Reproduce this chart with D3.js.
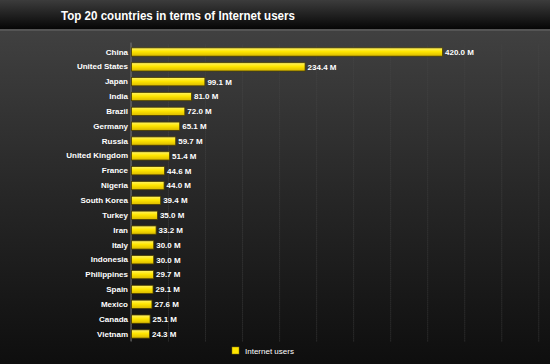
<!DOCTYPE html>
<html>
<head>
<meta charset="utf-8">
<script src="https://cdn.jsdelivr.net/npm/d3@7"></script>
<style>
  body { margin: 0; background: #111; }
  svg { display: block; font-family: "Liberation Sans", Arial, sans-serif; }
</style>
</head>
<body>
<div id="vis"></div>
<script>
// frame
const FRAME_WIDTH = 550;
const FRAME_HEIGHT = 364;
const MARGINS = {left: 131, top: 44.6, bottom: 22.6};

// data
const countries = ["China", "United States", "Japan", "India", "Brazil", "Germany",
  "Russia", "United Kingdom", "France", "Nigeria", "South Korea", "Turkey", "Iran",
  "Italy", "Indonesia", "Philippines", "Spain", "Mexico", "Canada", "Vietnam"];
const users = [420.0, 234.4, 99.1, 81.0, 72.0, 65.1, 59.7, 51.4, 44.6, 44.0,
  39.4, 35.0, 33.2, 30.0, 30.0, 29.7, 29.1, 27.6, 25.1, 24.3];
const gridTicks = [0, 50, 100, 150, 200, 250, 300, 350, 400, 450, 500, 550];
const seriesName = "Internet users";
const title = "Top 20 countries in terms of Internet users";

const svg = d3.select("#vis").append("svg")
    .attr("width", FRAME_WIDTH)
    .attr("height", FRAME_HEIGHT);

const defs = svg.append("defs");

// background gradients
const bg = defs.append("linearGradient").attr("id", "bg")
    .attr("x1", 0).attr("y1", 0).attr("x2", 0).attr("y2", 1);
bg.append("stop").attr("offset", "0%").attr("stop-color", "#454545");
bg.append("stop").attr("offset", "55%").attr("stop-color", "#262626");
bg.append("stop").attr("offset", "100%").attr("stop-color", "#0e0e0e");

const head = defs.append("linearGradient").attr("id", "head")
    .attr("x1", 0).attr("y1", 0).attr("x2", 0).attr("y2", 1);
head.append("stop").attr("offset", "0%").attr("stop-color", "#3c3c3c");
head.append("stop").attr("offset", "100%").attr("stop-color", "#060606");

const barGrad = defs.append("linearGradient").attr("id", "bar")
    .attr("x1", 0).attr("y1", 0).attr("x2", 0).attr("y2", 1);
barGrad.append("stop").attr("offset", "0%").attr("stop-color", "#fff36a");
barGrad.append("stop").attr("offset", "45%").attr("stop-color", "#ffe600");
barGrad.append("stop").attr("offset", "100%").attr("stop-color", "#d9b800");

svg.append("rect").attr("width", FRAME_WIDTH).attr("height", FRAME_HEIGHT)
    .attr("fill", "url(#bg)");
svg.append("rect").attr("width", FRAME_WIDTH).attr("height", 29)
    .attr("fill", "url(#head)");
svg.append("rect").attr("y", 29).attr("width", FRAME_WIDTH).attr("height", 2)
    .attr("fill", "#555");

svg.append("text")
    .attr("x", 61).attr("y", 20)
    .attr("fill", "#fff")
    .attr("font-size", "13px")
    .attr("font-weight", "bold")
    .attr("textLength", 234)
    .attr("lengthAdjust", "spacingAndGlyphs")
    .text(title);

// scales
const X_SCALE = d3.scaleLinear()
    .domain([0, 550])
    .range([MARGINS.left, MARGINS.left + 550 * 0.7405]);

const Y_SCALE = d3.scaleBand()
    .domain(countries)
    .range([MARGINS.top, FRAME_HEIGHT - MARGINS.bottom])
    .paddingInner(0.44)
    .paddingOuter(0.22);

// gridlines
svg.append("g")
    .attr("transform", "translate(0," + (FRAME_HEIGHT - MARGINS.bottom) + ")")
    .call(d3.axisBottom(X_SCALE).tickValues(gridTicks)
        .tickSize(-(FRAME_HEIGHT - MARGINS.bottom - MARGINS.top)).tickFormat(""))
    .call(g => g.select(".domain").remove())
    .call(g => g.selectAll("line").attr("stroke", "#4a4a4a").attr("stroke-opacity", 0.7)
        .attr("stroke-dasharray", "1,1"));

svg.append("line")
    .attr("x1", MARGINS.left).attr("x2", MARGINS.left)
    .attr("y1", MARGINS.top - 2).attr("y2", FRAME_HEIGHT - MARGINS.bottom)
    .attr("stroke", "#777");

// category labels
svg.append("g")
    .attr("transform", "translate(" + (MARGINS.left - 3) + ",0)")
    .call(d3.axisLeft(Y_SCALE).tickSize(0).tickPadding(0))
    .call(g => g.select(".domain").remove())
    .call(g => g.selectAll("text")
        .attr("fill", "#fff")
        .attr("font-size", "8px")
        .attr("font-weight", "bold")
        .attr("font-family", "Liberation Sans, Arial, sans-serif"));

// bars
svg.selectAll(".bar")
    .data(users)
    .enter()
    .append("rect")
      .attr("class", "bar")
      .attr("x", X_SCALE(0) + 0.5)
      .attr("y", (d, i) => Y_SCALE(countries[i]))
      .attr("width", d => X_SCALE(d) - X_SCALE(0))
      .attr("height", Y_SCALE.bandwidth())
      .attr("fill", "url(#bar)")
      .attr("stroke", "#4a3f00")
      .attr("stroke-width", 0.8);

// value labels
svg.selectAll(".val")
    .data(users)
    .enter()
    .append("text")
      .attr("class", "val")
      .attr("x", d => X_SCALE(d) + 3)
      .attr("y", (d, i) => Y_SCALE(countries[i]) + Y_SCALE.bandwidth() / 2)
      .attr("dy", "0.35em")
      .attr("fill", "#fff")
      .attr("font-size", "8px")
      .attr("font-weight", "bold")
      .text(d => d.toFixed(1) + " M");

// legend
const legend = svg.append("g").attr("transform", "translate(232,347)");
legend.append("rect").attr("width", 7).attr("height", 7)
    .attr("fill", "#ffe600").attr("stroke", "#8a7a00").attr("stroke-width", 0.5);
legend.append("text").attr("x", 13).attr("y", 6.5)
    .attr("fill", "#fff").attr("font-size", "8px")
    .text(seriesName);
</script>
</body>
</html>
